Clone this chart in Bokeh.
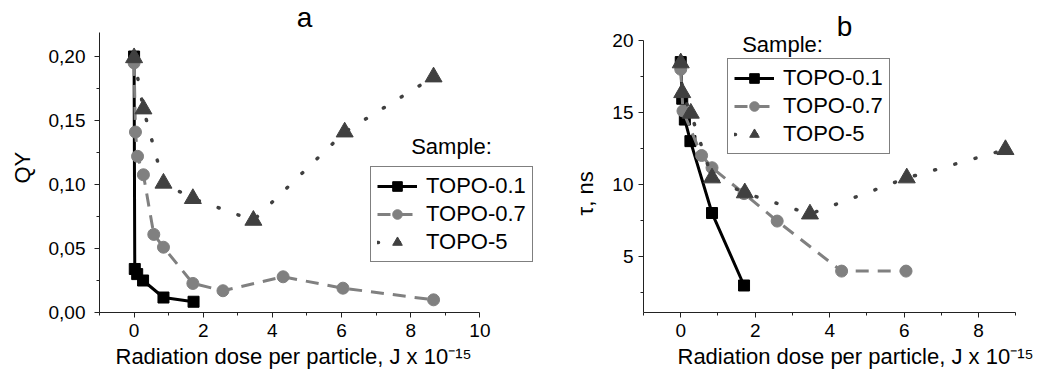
from bokeh.plotting import figure
from bokeh.models import Range1d, FixedTicker, Legend, LegendItem, Label, Title
from bokeh.layouts import row
from bokeh.embed import file_html
from bokeh.resources import INLINE

FONT = "Liberation Sans"

# ---------------- data: panel a (QY) ----------------
dose_a_01 = [0.0, 0.02, 0.09, 0.26, 0.85, 1.72]
qy_01 = [0.200, 0.034, 0.030, 0.025, 0.0117, 0.0084]

dose_a_07 = [0.0, 0.04, 0.10, 0.27, 0.57, 0.85, 1.70, 2.57, 4.31, 6.04, 8.66]
qy_07 = [0.195, 0.141, 0.122, 0.1076, 0.061, 0.051, 0.0227, 0.017, 0.0279, 0.019, 0.0099]

dose_a_5 = [0.0, 0.27, 0.85, 1.70, 3.45, 6.09, 8.66]
qy_5 = [0.199, 0.159, 0.101, 0.089, 0.072, 0.141, 0.184]

# ---------------- data: panel b (tau, ns) ----------------
dose_b_01 = [0.0, 0.04, 0.11, 0.26, 0.84, 1.70]
tau_01 = [18.5, 15.95, 14.5, 13.0, 8.0, 2.96]

dose_b_07 = [0.0, 0.06, 0.56, 0.84, 1.70, 2.59, 4.32, 6.05]
tau_07 = [18.0, 15.1, 12.0, 11.15, 9.35, 7.44, 3.96, 3.96]

dose_b_5 = [0.0, 0.04, 0.27, 0.84, 1.72, 3.47, 6.07, 8.72]
tau_5 = [18.44, 16.37, 14.94, 10.44, 9.40, 7.93, 10.44, 12.41]

series_names = ["TOPO-0.1", "TOPO-0.7", "TOPO-5"]

# ---------------- ticks ----------------
a_xticks = [0, 2, 4, 6, 8, 10]
a_xminor = [-1, 1, 3, 5, 7, 9]
a_yticks = [0.0, 0.05, 0.10, 0.15, 0.20]
a_ylabels = ["0,00", "0,05", "0,10", "0,15", "0,20"]
a_yminor = [0.025, 0.075, 0.125, 0.175]

b_xticks = [0, 2, 4, 6, 8]
b_xminor = [-1, 1, 3, 5, 7, 9]
b_yticks = [5, 10, 15, 20]
b_yminor = [2.5, 7.5, 12.5, 17.5]

x_title = "Radiation dose per particle, J x 10\u207b\u00b9\u2075"

AXIS_COLOR = "#222222"
BLACK = "#000000"
GRAY = "#808080"
DARK = "#404040"


def style_axes(p, xt, xm, yt, ym, xb, yb, ystand):
    p.grid.visible = False
    p.outline_line_color = None
    p.background_fill_color = "white"
    p.border_fill_color = "white"
    p.xaxis.ticker = FixedTicker(ticks=xt, minor_ticks=xm)
    p.yaxis.ticker = FixedTicker(ticks=yt, minor_ticks=ym)
    p.xaxis[0].bounds = xb
    p.yaxis[0].bounds = yb
    for ax in (p.xaxis[0], p.yaxis[0]):
        ax.axis_line_color = AXIS_COLOR
        ax.axis_line_width = 1
        ax.major_tick_line_color = AXIS_COLOR
        ax.minor_tick_line_color = AXIS_COLOR
        ax.major_tick_in = 0
        ax.minor_tick_in = 0
        ax.major_tick_out = 5
        ax.minor_tick_out = 3
        ax.major_label_text_font = FONT
        ax.major_label_text_font_size = "19px"
        ax.major_label_text_color = BLACK
    p.xaxis[0].major_label_standoff = 6
    p.yaxis[0].major_label_standoff = ystand


def side_title(p, side, label, offset, standoff):
    t = Title(text=label, align="left", offset=offset, standoff=standoff,
              vertical_align="top", text_font=FONT, text_font_size="22px",
              text_font_style="normal", text_color=BLACK)
    p.add_layout(t, side)


def add_series(p, xs, ys):
    (x1, y1), (x2, y2), (x3, y3) = list(zip(xs, ys))
    l1 = p.line(x1, y1, line_color=BLACK, line_width=3)
    s1 = p.scatter(x1, y1, marker="square", size=11, fill_color=BLACK, line_color=BLACK)
    l2 = p.line(x2, y2, line_color=GRAY, line_width=3, line_dash="13 9")
    s2 = p.scatter(x2, y2, marker="circle", size=12, fill_color=GRAY, line_color=GRAY)
    l3 = p.line(x3, y3, line_color=DARK, line_width=3.5, line_dash="1 20", line_cap="round")
    s3 = p.scatter(x3, y3, marker="triangle", size=17, fill_color=DARK, line_color=DARK)
    return [[l1, s1], [l2, s2], [l3, s3]]


def add_legend(p, rends, loc):
    items = [LegendItem(label=n, renderers=r) for n, r in zip(series_names, rends)]
    lg = Legend(items=items, location=loc, orientation="vertical",
                label_text_font=FONT, label_text_font_size="22px", label_text_color=BLACK,
                glyph_width=40, glyph_height=24, label_height=24, label_standoff=9,
                spacing=2, padding=6, margin=0,
                border_line_color=BLACK, border_line_width=1,
                background_fill_color="white", background_fill_alpha=1.0)
    p.add_layout(lg)


def text(p, x, y, s, size, align="left"):
    p.add_layout(Label(x=x, y=y, text=s, text_font=FONT, text_font_size=size,
                       text_color=BLACK, text_align=align, text_baseline="alphabetic"))


# ---------------- panel a ----------------
p1 = figure(width=560, height=375, x_range=Range1d(-1, 12.331), y_range=Range1d(0, 0.24375),
            output_backend="svg", toolbar_location=None,
            min_border_left=97, min_border_right=0, min_border_top=0, min_border_bottom=63)
style_axes(p1, a_xticks, a_xminor, a_yticks, a_yminor, (-1, 10), (0, 0.219), 9)
p1.yaxis[0].major_label_overrides = dict(zip(a_yticks, a_ylabels))
side_title(p1, "below", x_title, 16, 8)
side_title(p1, "left", "QY", 129, 18)
ra = add_series(p1, [dose_a_01, dose_a_07, dose_a_5], [qy_01, qy_07, qy_5])
add_legend(p1, ra, (271, 50))
text(p1, 4.93, 0.2305, "a", "28px", align="center")
text(p1, 8.012, 0.1298, "Sample:", "22px")

# ---------------- panel b ----------------
p2 = figure(width=480, height=375, x_range=Range1d(-1, 9.661), y_range=Range1d(1.081, 22.782),
            output_backend="svg", toolbar_location=None,
            min_border_left=83, min_border_right=0, min_border_top=0, min_border_bottom=63)
style_axes(p2, b_xticks, b_xminor, b_yticks, b_yminor, (-1, 9), (1.081, 20), 5)
side_title(p2, "below", x_title, 34, 8)
side_title(p2, "left", "\u03c4, ns", 97, 19)
rb = add_series(p2, [dose_b_01, dose_b_07, dose_b_5], [tau_01, tau_07, tau_5])
add_legend(p2, rb, (84, 158))
text(p2, 4.397, 20.974, "b", "28px", align="center")
text(p2, 1.650, 19.708, "Sample:", "22px")

layout = row(p1, p2)
open("out.html", "w").write(file_html(layout, INLINE))
